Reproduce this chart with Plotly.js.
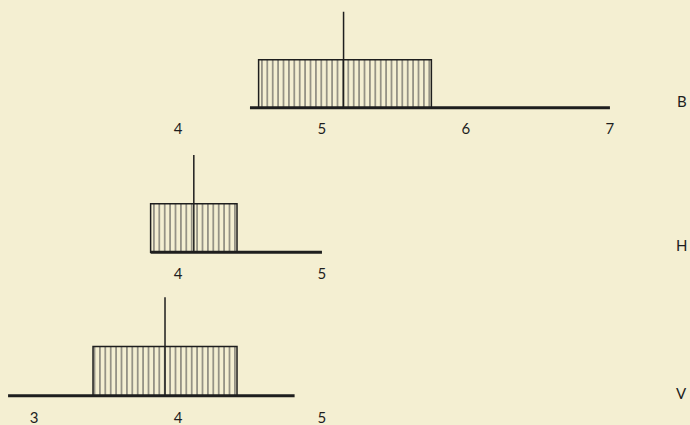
<!DOCTYPE html>
<html>
<head>
<meta charset="utf-8">
<script src="https://cdn.plot.ly/plotly-3.0.1.min.js"></script>
<style>
  html, body { margin: 0; padding: 0; background: #f4efd2; }
  #chart { width: 690px; height: 425px; }
</style>
</head>
<body>
<div id="chart"></div>
<script>
// rows of the chart, top to bottom
const rows = ['B', 'H', 'V'];
// hatched box: low and high end of the range
const rangeLow = [4.56, 3.81, 3.41];
const rangeHigh = [5.76, 4.41, 4.41];
// vertical stroke (mean)
const means = [5.15, 4.11, 3.91];
// baseline drawn under each row
const lineStart = [4.5, 3.81, 2.82];
const lineEnd = [7.0, 5.0, 4.81];
// tick labels under each row
const tickLabels = [[4, 5, 6, 7], [4, 5], [3, 4, 5]];

const bg = '#f4efd2';
const ink = '#1e1e1e';
const xRange = [2.764, 7.556];
const boxHeight = 1;   // the box is half as tall as the mean stroke
const meanHeight = 2;
// vertical domain of each row on the page, and where its name sits
const domains = [[0.724, 0.995], [0.3834, 0.658], [0.0456, 0.3235]];
const nameY = [0.13, 0.15, 0.06];

const traces = [];
const layout = {
    width: 690,
    height: 425,
    margin: { l: 0, r: 0, t: 0, b: 0 },
    paper_bgcolor: bg,
    plot_bgcolor: bg,
    showlegend: false,
    font: { family: 'Lato, "DejaVu Sans", sans-serif', color: ink, size: 13 },
    annotations: []
};

rows.forEach((name, i) => {
    const n = i + 1;
    const xa = n === 1 ? 'x' : 'x' + n;
    const ya = n === 1 ? 'y' : 'y' + n;

    // baseline
    traces.push({
        type: 'scatter', mode: 'lines', xaxis: xa, yaxis: ya,
        x: [lineStart[i], lineEnd[i]], y: [0, 0],
        line: { color: ink, width: 3 }, hoverinfo: 'skip'
    });
    // hatched box
    traces.push({
        type: 'bar', xaxis: xa, yaxis: ya,
        x: [(rangeLow[i] + rangeHigh[i]) / 2],
        width: [rangeHigh[i] - rangeLow[i]],
        y: [boxHeight],
        marker: {
            color: bg,
            line: { color: ink, width: 1.5 },
            pattern: { shape: '|', size: 5.4, solidity: 0.18, fgcolor: '#444', bgcolor: bg, fillmode: 'replace' }
        },
        hoverinfo: 'skip'
    });
    // mean stroke
    traces.push({
        type: 'scatter', mode: 'lines', xaxis: xa, yaxis: ya,
        x: [means[i], means[i]], y: [0, meanHeight],
        line: { color: ink, width: 1.5 }, hoverinfo: 'skip'
    });

    layout['xaxis' + (n === 1 ? '' : n)] = {
        anchor: ya, range: xRange, domain: [0, 1],
        showgrid: false, zeroline: false, showline: false, ticks: '',
        tickvals: tickLabels[i], ticktext: tickLabels[i].map(String),
        tickfont: { size: 15, color: ink }, ticklabelstandoff: 1, fixedrange: true
    };
    layout['yaxis' + (n === 1 ? '' : n)] = {
        anchor: xa, domain: domains[i], range: [-0.2, 2.2],
        showgrid: false, zeroline: false, showline: false, showticklabels: false, ticks: '',
        fixedrange: true
    };

    // row name at the right
    layout.annotations.push({
        xref: 'paper', yref: ya,
        x: 0.988, y: nameY[i], text: name, showarrow: false,
        xanchor: 'center', yanchor: 'middle',
        font: { size: 15, color: ink }
    });
});

layout.bargap = 0;

Plotly.newPlot('chart', traces, layout, { displayModeBar: false, staticPlot: true });
</script>
</body>
</html>
